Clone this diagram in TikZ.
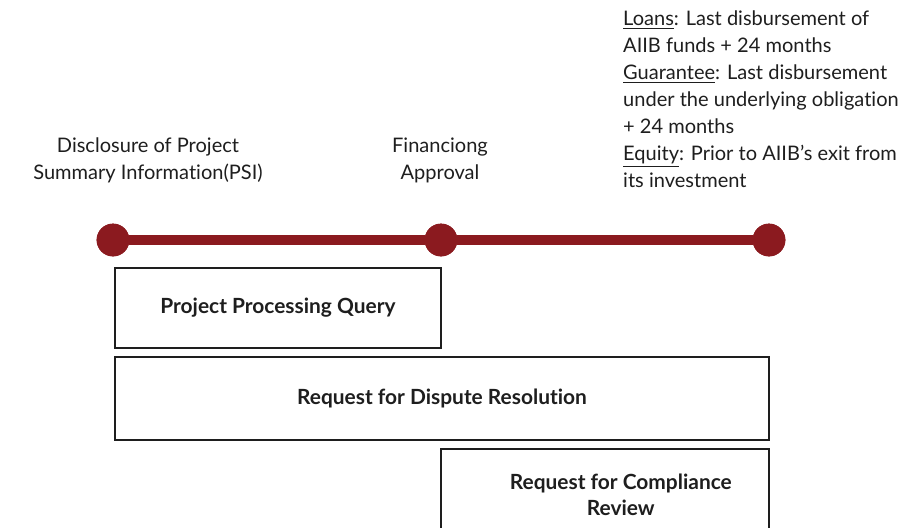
\documentclass[tikz,border=0pt]{standalone}
\usepackage{fontspec}
\setmainfont{Lato}[Ligatures=NoCommon]
\usetikzlibrary{positioning}

\definecolor{timeline}{HTML}{8B1A1F}
\definecolor{ink}{HTML}{1E1E1E}

\tikzset{
    stage/.style={circle, fill=timeline, draw=timeline, minimum size=6.4mm, inner sep=0pt},
    querybox/.style={draw=ink, line width=0.9pt, align=center, text=ink,
        font=\fontsize{11.9}{15}\selectfont\bfseries},
    label/.style={align=center, text=ink}
}

\begin{document}
\begin{tikzpicture}[x=0.2mm, y=-0.2mm, font=\fontsize{11.4}{15.3}\selectfont]
    \useasboundingbox (0,0) rectangle (920,527);
    \clip (0,0) rectangle (920,527);
    % --------
    % Timeline
    % --------
    \node[stage] at (113, 240) (disclosure) {};
    \node[stage] at (441, 240) (approval) {};
    \node[stage] at (769, 240) (closing) {};
    \draw[timeline, line width=5.8pt] (disclosure) -- (approval) -- (closing);
    \node[stage] at (113, 240) {};
    \node[stage] at (441, 240) {};
    \node[stage] at (769, 240) {};

    \node[label] at (148, 160) (textDisclosure) {Disclosure of Project\\Summary Information(PSI)};
    \node[label] at (440, 160) (textApproval) {Financiong\\Approval};
    \node[label, align=left, anchor=north west] at (617, 5) (textClosing) {\underline{Loans}: Last disbursement of\\AIIB funds + 24 months\\\underline{Guarantee}: Last disbursement\\under the underlying obligation\\+ 24 months\\\underline{Equity}: Prior to AIIB's exit from\\its investment};

    % --------
    % Requests
    % --------
    \node[querybox, minimum width=65.2mm, minimum height=16mm] at (278, 308) (ppq) {Project Processing Query};
    \node[querybox, minimum width=130.8mm, minimum height=16.6mm] at (442, 398.5) (dispute) {Request for Dispute Resolution};
    \node[querybox, minimum width=65.6mm, minimum height=18.2mm] at (605, 494.5) (compliance) {\hspace*{20\pgflinewidth}Request for Compliance\\\hspace*{20\pgflinewidth}Review};
\end{tikzpicture}
\end{document}
